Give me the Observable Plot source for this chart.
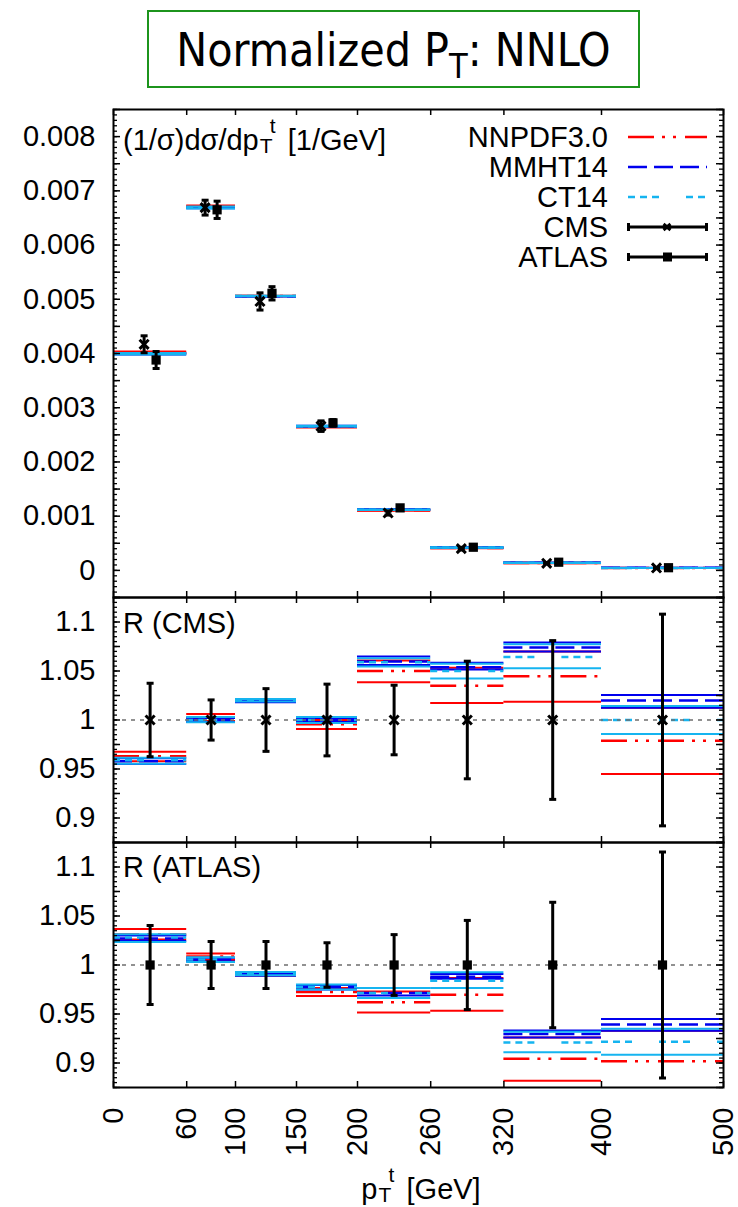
<!DOCTYPE html>
<html>
<head>
<meta charset="utf-8">
<script src="https://cdn.jsdelivr.net/npm/d3@7"></script>
<script src="https://cdn.jsdelivr.net/npm/@observablehq/plot@0.6"></script>
<style>
  body { margin: 0; background: #fff; }
  #chart { position: relative; width: 738px; height: 1207px; overflow: hidden; background: #fff;
           font-family: "Liberation Sans", Arial, sans-serif; color: #000; }
  #chart svg { position: absolute; left: 0; }
  #title { position: absolute; left: 147px; top: 10px; width: 489px; height: 72px; padding-top: 2px;
           border: 2px solid #1c941c; text-align: center; white-space: nowrap;
           font-family: "DejaVu Sans Condensed", "DejaVu Sans", sans-serif; font-stretch: condensed;
           font-size: 46px; line-height: 72px; }
  #title .tsub { font-size: 34px; position: relative; top: 12px; line-height: 0; }
  .lbl { position: absolute; font-size: 29px; line-height: 30px; white-space: nowrap; }
  .st { display: inline-block; position: relative; width: 21px; height: 1px; }
  .st .su, .st .sb { position: absolute; font-size: 21px; line-height: 21px; }
  .st .su { top: -34px; left: 11px; }
  .st .sb { top: -14px; left: 1px; }
  .key-text { position: absolute; right: 130px; font-size: 29px; line-height: 30px; white-space: nowrap; }
</style>
</head>
<body>
<div id="chart">
  <div id="title">Normalized P<span class="tsub">T</span>: NNLO</div>
</div>
<script>
// pT bins of the top-quark transverse momentum (GeV)
const binLow  = [0, 60, 100, 150, 200, 260, 320, 400];
const binHigh = [60, 100, 150, 200, 260, 320, 400, 500];
const binMid  = [30, 80, 125, 175, 230, 290, 360, 450];
const xTickValues = [0, 60, 100, 150, 200, 260, 320, 400, 500];

// Measured normalized cross sections (1/GeV) and relative uncertainties
const cmsXsec     = [0.00417, 0.00669, 0.00496, 0.00266, 0.001058, 0.000401, 0.000131, 0.0000455];
const cmsRelErr   = [0.0375, 0.0205, 0.032, 0.0366, 0.0355, 0.060, 0.081, 0.108];
const atlasXsec   = [0.00388, 0.00665, 0.00511, 0.00272, 0.001153, 0.000427, 0.000151, 0.0000494];
const atlasRelErr = [0.0403, 0.024, 0.024, 0.0227, 0.031, 0.0455, 0.064, 0.1153];

// NNLO theory / CMS data: central value and PDF band edges
const nnpdfCmsCentral = [0.963, 1.0024, 1.020, 0.9956, 1.050, 1.035, 1.0447, 0.9789];
const nnpdfCmsLow     = [0.958, 0.999, 1.019, 0.9908, 1.0385, 1.0174, 1.0187, 0.9448];
const nnpdfCmsHigh    = [0.9676, 1.0061, 1.021, 1.000, 1.0606, 1.0532, 1.0699, 1.0126];
const mmhtCmsCentral  = [0.958, 1.000, 1.019, 1.000, 1.0596, 1.0539, 1.074, 1.0198];
const mmhtCmsLow      = [0.955, 0.998, 1.018, 0.998, 1.056, 1.0515, 1.0699, 1.0126];
const mmhtCmsHigh     = [0.961, 1.002, 1.020, 1.002, 1.0647, 1.0583, 1.079, 1.0256];
const ct14CmsCentral  = [0.959, 1.000, 1.020, 1.000, 1.059, 1.0501, 1.0644, 1.000];
const ct14CmsLow      = [0.9553, 0.9976, 1.019, 0.997, 1.0545, 1.0423, 1.0528, 0.9857];
const ct14CmsHigh     = [0.9615, 1.003, 1.0215, 1.003, 1.063, 1.0573, 1.0774, 1.0143];

// NNLO theory / ATLAS data
const nnpdfAtlasCentral = [1.031, 1.0086, 0.990, 0.9724, 0.9619, 0.9697, 0.9043, 0.9018];
const nnpdfAtlasLow     = [1.026, 1.005, 0.989, 0.9683, 0.9516, 0.9534, 0.8818, 0.868];
const nnpdfAtlasHigh    = [1.0368, 1.0117, 0.991, 0.9765, 0.973, 0.9867, 0.926, 0.933];
const mmhtAtlasCentral  = [1.027, 1.0055, 0.990, 0.9772, 0.9714, 0.9881, 0.9295, 0.9394];
const mmhtAtlasLow      = [1.0245, 1.0035, 0.989, 0.975, 0.969, 0.986, 0.9261, 0.933];
const mmhtAtlasHigh     = [1.030, 1.0075, 0.991, 0.9795, 0.9765, 0.9908, 0.9332, 0.9448];
const ct14AtlasCentral  = [1.028, 1.0055, 0.991, 0.9775, 0.9714, 0.984, 0.921, 0.9217];
const ct14AtlasLow      = [1.0235, 1.003, 0.9895, 0.975, 0.9663, 0.9765, 0.911, 0.9084];
const ct14AtlasHigh     = [1.0315, 1.008, 0.9929, 0.980, 0.9765, 0.9925, 0.932, 0.935];

// Axis tick labels
const topTickLabels   = [0, 0.001, 0.002, 0.003, 0.004, 0.005, 0.006, 0.007, 0.008];
const ratioTickLabels = [0.9, 0.95, 1, 1.05, 1.1];

const pdfSets = {
  nnpdf: { name: "NNPDF3.0", color: "#ff0000", dash: "26,8,3,8,3,9",
           cms: { c: nnpdfCmsCentral, lo: nnpdfCmsLow, hi: nnpdfCmsHigh },
           atlas: { c: nnpdfAtlasCentral, lo: nnpdfAtlasLow, hi: nnpdfAtlasHigh } },
  mmht:  { name: "MMHT14", color: "#0000ee", dash: "19,7",
           cms: { c: mmhtCmsCentral, lo: mmhtCmsLow, hi: mmhtCmsHigh },
           atlas: { c: mmhtAtlasCentral, lo: mmhtAtlasLow, hi: mmhtAtlasHigh } },
  ct14:  { name: "CT14", color: "#15b4f0", dash: "7,5,7,5,7,27",
           cms: { c: ct14CmsCentral, lo: ct14CmsLow, hi: ct14CmsHigh },
           atlas: { c: ct14AtlasCentral, lo: ct14AtlasLow, hi: ct14AtlasHigh } }
};
const legendOrder = ["nnpdf", "mmht", "ct14"];
const drawOrder = ["nnpdf", "mmht", "ct14"];

// Layout (pixels)
const W = 738, ML = 113, MR = 15;
const plotW = W - ML - MR;
const majorLen = 7, minorLen = 4, xTickLen = 6;
const font = "'Liberation Sans', Arial, sans-serif";

// horizontal error-bar cap drawn as a dot symbol
const capSymbol = { draw(ctx, size) { const w = Math.sqrt(size / Math.PI); ctx.moveTo(-w, 0); ctx.lineTo(w, 0); } };

function segments(values) {
  return values.map((y, i) => ({ x1: binLow[i], x2: binHigh[i], y }));
}

function theoryMarks(valuesFor) {
  const marks = [];
  for (const key of drawOrder) {
    const p = pdfSets[key];
    for (const kind of ["lo", "hi"]) {
      marks.push(Plot.ruleY(segments(valuesFor(p, kind)),
        { x1: "x1", x2: "x2", y: "y", stroke: p.color, strokeWidth: 2, clip: true }));
    }
    marks.push(Plot.ruleY(segments(valuesFor(p, "c")),
      { x1: "x1", x2: "x2", y: "y", stroke: p.color, strokeWidth: 2.5, strokeDasharray: p.dash, clip: true }));
  }
  return marks;
}

function dataMarks(rows, marker, dx) {
  const common = { x: "x", dx, stroke: "black" };
  return [
    Plot.ruleX(rows, { x: "x", y1: "lo", y2: "hi", dx, stroke: "black", strokeWidth: 3 }),
    Plot.dot(rows, { ...common, y: "lo", symbol: capSymbol, r: 3.5, fill: "none", strokeWidth: 3 }),
    Plot.dot(rows, { ...common, y: "hi", symbol: capSymbol, r: 3.5, fill: "none", strokeWidth: 3 }),
    marker === "cross"
      ? Plot.dot(rows, { ...common, y: "y", symbol: "times", r: 4.2, fill: "none", strokeWidth: 3 })
      : Plot.dot(rows, { x: "x", y: "y", dx, symbol: "square", r: 5.2, fill: "black", stroke: "none" })
  ];
}

function frameTicks(plotH, major, minor) {
  return [
    Plot.tickY(minor, { y: d => d, insetRight: plotW - minorLen, strokeWidth: 1.3 }),
    Plot.tickY(minor, { y: d => d, insetLeft: plotW - minorLen, strokeWidth: 1.3 }),
    Plot.tickY(major, { y: d => d, insetRight: plotW - majorLen, strokeWidth: 1.5 }),
    Plot.tickY(major, { y: d => d, insetLeft: plotW - majorLen, strokeWidth: 1.5 }),
    Plot.tickX(xTickValues, { x: d => d, insetBottom: plotH - xTickLen, strokeWidth: 1.5 }),
    Plot.tickX(xTickValues, { x: d => d, insetTop: plotH - xTickLen, strokeWidth: 1.5 }),
    Plot.frame({ stroke: "black", strokeWidth: 2 })
  ];
}

function panel({ top, marginTop, marginBottom, plotH, yDomain, marks }) {
  const svg = Plot.plot({
    width: W, height: marginTop + plotH + marginBottom,
    marginLeft: ML, marginRight: MR, marginTop, marginBottom,
    x: { domain: [0, 500], axis: null },
    y: { domain: yDomain, axis: null },
    style: { background: "transparent", overflow: "visible", fontFamily: font, fontSize: "29px", color: "black" },
    marks
  });
  svg.style.top = top + "px";
  document.getElementById("chart").appendChild(svg);
}

const range = (a, b, s) => d3.range(Math.round(a / s), Math.round(b / s) + 1).map(k => +(k * s).toFixed(6));

// ---- top panel: normalized distribution ----
const cmsRows = binMid.map((x, i) => ({ x, y: cmsXsec[i], lo: cmsXsec[i] * (1 - cmsRelErr[i]), hi: cmsXsec[i] * (1 + cmsRelErr[i]) }));
const atlasRows = binMid.map((x, i) => ({ x, y: atlasXsec[i], lo: atlasXsec[i] * (1 - atlasRelErr[i]), hi: atlasXsec[i] * (1 + atlasRelErr[i]) }));

panel({
  top: 104, marginTop: 5, marginBottom: 4, plotH: 488, yDomain: [-0.0005, 0.0085],
  marks: [
    ...theoryMarks((p, kind) => p.cms[kind].map((r, i) => r * cmsXsec[i])),
    ...dataMarks(cmsRows, "cross", -6),
    ...dataMarks(atlasRows, "square", 6),
    Plot.axisY(topTickLabels, { anchor: "left", tickSize: 0, tickPadding: 18, fontSize: 29,
      tickFormat: d => d === 0 ? "0" : d.toFixed(3), label: null }),
    ...frameTicks(488, range(-0.0005, 0.0085, 0.0005), range(-0.0005, 0.0085, 0.0001))
  ]
});

// ---- ratio panels ----
function ratioRows(relErr) {
  return binMid.map((x, i) => ({ x, y: 1, lo: 1 - relErr[i], hi: 1 + relErr[i] }));
}
function ratioMarks(exp, relErr, marker) {
  return [
    ...theoryMarks((p, kind) => p[exp][kind]),
    Plot.ruleY([1], { stroke: "#6e6e6e", strokeWidth: 1.6, strokeDasharray: "4,5" }),
    ...dataMarks(ratioRows(relErr), marker, 0),
    Plot.axisY(ratioTickLabels, { anchor: "left", tickSize: 0, tickPadding: 18, fontSize: 29,
      tickFormat: d => String(d), label: null }),
    ...frameTicks(245, range(0.875, 1.125, 0.025), range(0.875, 1.125, 0.005))
  ];
}

panel({ top: 593, marginTop: 4, marginBottom: 4, plotH: 245, yDomain: [0.875, 1.125],
        marks: ratioMarks("cms", cmsRelErr, "cross") });

panel({ top: 838, marginTop: 4, marginBottom: 120, plotH: 245, yDomain: [0.875, 1.125],
        marks: [
          ...ratioMarks("atlas", atlasRelErr, "square"),
          Plot.axisX(xTickValues, { anchor: "bottom", tickSize: 0, tickPadding: 20, tickRotate: -90,
            fontSize: 29, tickFormat: d => String(d), label: null })
        ] });

// ---- text labels ----
const chart = document.getElementById("chart");
const ptStack = '<span class="st"><span class="su">t</span><span class="sb">T</span></span>';
function addLabel(html, left, top, extra = "") {
  const d = document.createElement("div");
  d.className = "lbl";
  d.style.cssText = `left:${left}px;top:${top}px;${extra}`;
  d.innerHTML = html;
  chart.appendChild(d);
}
addLabel(`(1/σ)dσ/dp${ptStack} [1/GeV]`, 123, 125);
addLabel("R (CMS)", 123, 608);
addLabel("R (ATLAS)", 123, 852);
addLabel(`p${ptStack} [GeV]`, 321, 1174, "width:200px;text-align:center;");

// ---- legend ----
const keyBaselines = [146.7, 176.7, 206.7, 236.7, 266.7];
const keyItems = [
  ...legendOrder.map(k => ({ label: pdfSets[k].name, type: "line", color: pdfSets[k].color, dash: pdfSets[k].dash })),
  { label: "CMS", type: "cross" },
  { label: "ATLAS", type: "square" }
];
keyItems.forEach((item, i) => {
  const b = keyBaselines[i];
  const t = document.createElement("div");
  t.className = "key-text";
  t.style.top = (b - 25) + "px";
  t.textContent = item.label;
  chart.appendChild(t);

  const s = d3.create("svg").attr("width", 82).attr("height", 16)
    .style("top", (b - 18) + "px").style("left", "627px").style("position", "absolute");
  if (item.type === "line") {
    s.append("line").attr("x1", 1).attr("x2", 80).attr("y1", 8).attr("y2", 8)
      .attr("stroke", item.color).attr("stroke-width", 2.5).attr("stroke-dasharray", item.dash);
  } else {
    s.append("line").attr("x1", 1).attr("x2", 80).attr("y1", 8).attr("y2", 8).attr("stroke", "black").attr("stroke-width", 3);
    s.append("line").attr("x1", 1.5).attr("x2", 1.5).attr("y1", 4).attr("y2", 12).attr("stroke", "black").attr("stroke-width", 3);
    s.append("line").attr("x1", 79.5).attr("x2", 79.5).attr("y1", 4).attr("y2", 12).attr("stroke", "black").attr("stroke-width", 3);
    if (item.type === "square") {
      s.append("rect").attr("x", 36).attr("y", 3.5).attr("width", 9).attr("height", 9).attr("fill", "black");
    } else {
      s.append("path").attr("d", "M36.5,5L43.5,11M36.5,11L43.5,5").attr("stroke", "black").attr("stroke-width", 3);
    }
  }
  chart.appendChild(s.node());
});
</script>
</body>
</html>
